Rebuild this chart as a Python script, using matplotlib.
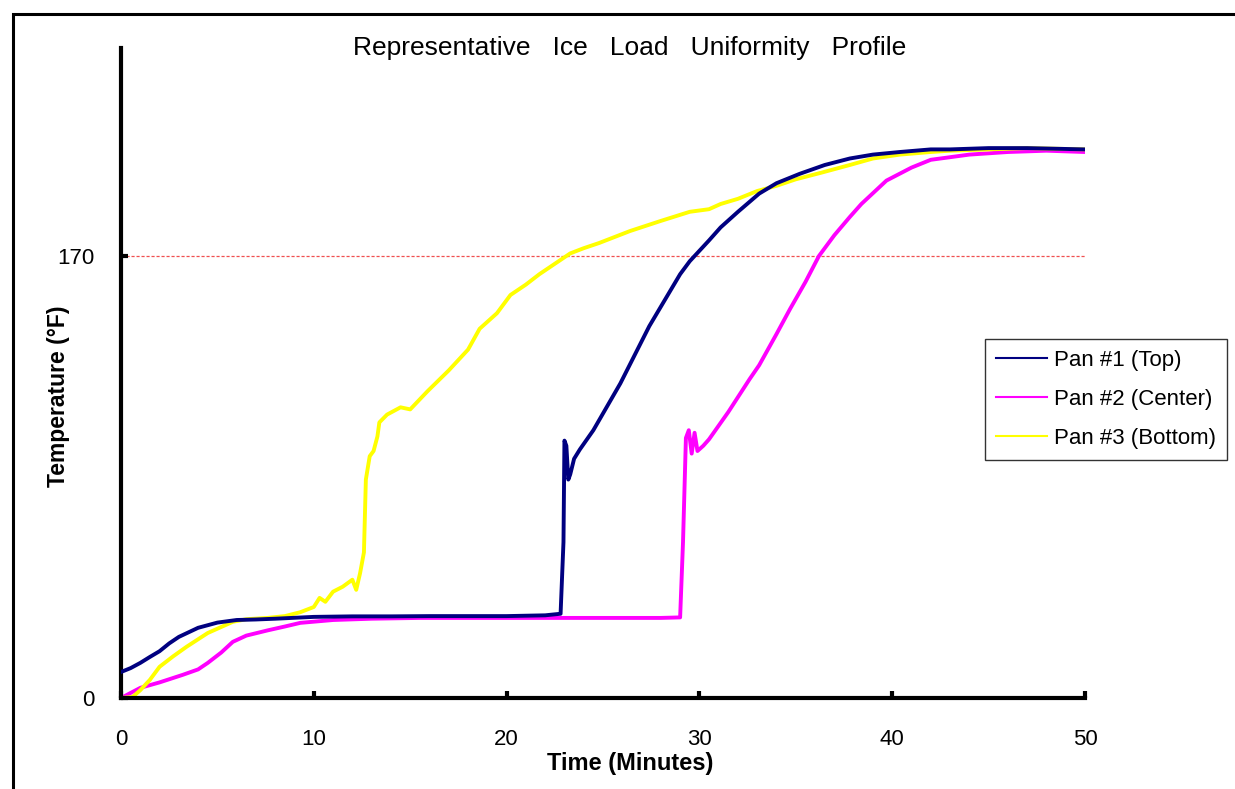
import matplotlib.pyplot as plt
from matplotlib.patches import Rectangle

plt.rcParams['font.family'] = ['Liberation Sans', 'DejaVu Sans']

# Pan #1 (Top)
t_top = [0, 0.5, 1, 1.5, 2, 2.5, 3, 4, 5, 6, 7, 8, 10, 12, 14, 16, 18, 20, 22,
         22.8, 22.95, 23.0, 23.1, 23.2, 23.3, 23.5, 23.8, 24.5, 25.9, 27.4, 29.0,
         29.5, 30.5, 31.1, 32.0, 33.1, 34.0, 35.2, 36.5, 37.8, 39, 40.4, 42, 43,
         45, 47, 50]
v_top = [10, 11.5, 13.5, 15.8, 18, 21, 23.5, 27, 29, 30, 30.2, 30.5, 31.2, 31.4,
         31.4, 31.5, 31.5, 31.5, 31.8, 32.4, 60, 99, 97, 84, 86, 92, 95.6, 103,
         121, 143, 163, 168, 176, 181, 187, 194, 198, 201.6, 205, 207.5, 209, 210,
         211, 211, 211.5, 211.5, 211]

# Pan #2 (Center)
t_center = [0, 1, 2, 3.2, 4, 4.5, 5.2, 5.8, 6.5, 7.6, 8.5, 9.3, 11, 13, 15.5, 18,
            20, 22, 24, 26, 28, 29.0, 29.15, 29.3, 29.45, 29.6, 29.75, 29.9, 30.2,
            30.5, 31.5, 32.6, 33.1, 34, 34.7, 35.5, 36.2, 37, 37.8, 38.4, 39.7, 41,
            42, 44, 46, 48, 50]
v_center = [0, 3.9, 6, 8.9, 11, 13.5, 17.5, 21.6, 24, 26, 27.5, 28.9, 30, 30.5,
            30.8, 30.8, 30.8, 30.8, 30.8, 30.8, 30.8, 31, 60, 100, 103, 94, 102, 95,
            97, 99.5, 110, 122.6, 128, 140, 149.6, 160, 170, 178, 185, 190, 199,
            204, 207, 209, 210, 210.5, 210]

# Pan #3 (Bottom)
t_bottom = [0, 0.6, 1, 1.5, 2, 2.7, 3.4, 4.5, 5.8, 6.5, 7.6, 8.5, 9.3, 10, 10.3,
            10.6, 11, 11.5, 12.0, 12.2, 12.4, 12.6, 12.7, 12.9, 13.1, 13.3, 13.4,
            13.8, 14.5, 15, 15.9, 17, 18, 18.6, 19.5, 20.2, 21, 21.7, 22.5, 23.3,
            24, 24.8, 26.4, 28, 29.5, 30.5, 31.1, 32, 33, 34, 35, 36.3, 37.8, 39,
            40.4, 42, 43, 45, 47, 50]
v_bottom = [0, 0.4, 3, 7, 12, 16, 19.7, 25, 29.3, 30.3, 30.8, 31.5, 33, 35, 38.5,
            37, 40.9, 42.8, 45.5, 41.6, 48, 56, 84, 93, 95, 100.6, 106, 109, 111.8,
            111, 118, 126, 134, 142, 148, 155, 159, 163, 167, 171, 173, 175, 179.6,
            183.5, 187, 188, 190, 192, 195, 197, 199.5, 202, 205, 207.5, 209, 210,
            210.5, 211, 211.5, 211]

limit = 170
x_ticks = [0, 10, 20, 30, 40, 50]
y_ticks = [0, 170]

fig = plt.figure(figsize=(12.35, 7.89), dpi=100)
ax = fig.add_axes([121 / 1235, 1 - 698 / 789, (1085 - 121) / 1235, (698 - 48) / 789])

# outer chart frame (only left/top edges show)
fig.add_artist(Rectangle((13 / 1235, -0.5), 1.5, 1.5 - 14 / 789,
                         transform=fig.transFigure, fill=False, lw=2.2,
                         edgecolor='black'))

ax.axhline(limit, color='#f05050', lw=0.9, ls=(0, (2.5, 1.5)), zorder=1)

ax.plot(t_top, v_top, color='#000080', lw=2.8, label='Pan #1 (Top)', zorder=3)
ax.plot(t_center, v_center, color='#ff00ff', lw=2.8, label='Pan #2 (Center)', zorder=2)
ax.plot(t_bottom, v_bottom, color='#ffff00', lw=2.8, label='Pan #3 (Bottom)', zorder=2)

ax.set_xlim(0, 50)
ax.set_ylim(0, 250)
ax.set_xticks(x_ticks)
ax.set_yticks(y_ticks)
ax.tick_params(axis='x', direction='in', length=5, width=3, pad=22, labelsize=16)
ax.tick_params(axis='y', direction='in', length=5, width=3, pad=19, labelsize=16)

for side in ['top', 'right']:
    ax.spines[side].set_visible(False)
for side in ['left', 'bottom']:
    ax.spines[side].set_linewidth(3)

ax.set_xlabel('Time (Minutes)', fontsize=17, fontweight='bold')
ax.xaxis.set_label_coords((630 - 121) / 964, (698 - 752) / 650)
ax.set_ylabel('Temperature (°F)', fontsize=16.5, fontweight='bold')
ax.yaxis.set_label_coords((70 - 121) / 964, (698 - 396) / 650)

fig.text(630 / 1235, 1 - 48 / 789,
         'Representative   Ice   Load   Uniformity   Profile',
         ha='center', va='center', fontsize=19)

leg = fig.legend(loc='upper left', bbox_to_anchor=(985 / 1235, 1 - 339 / 789),
                 borderaxespad=0, fontsize=16, frameon=True, fancybox=False,
                 edgecolor='black', handlelength=2.3, borderpad=0.5,
                 labelspacing=0.8, handletextpad=0.3)
leg.get_frame().set_linewidth(1)
for line in leg.get_lines():
    line.set_linewidth(1.5)

fig.savefig('out.png', dpi=100)
